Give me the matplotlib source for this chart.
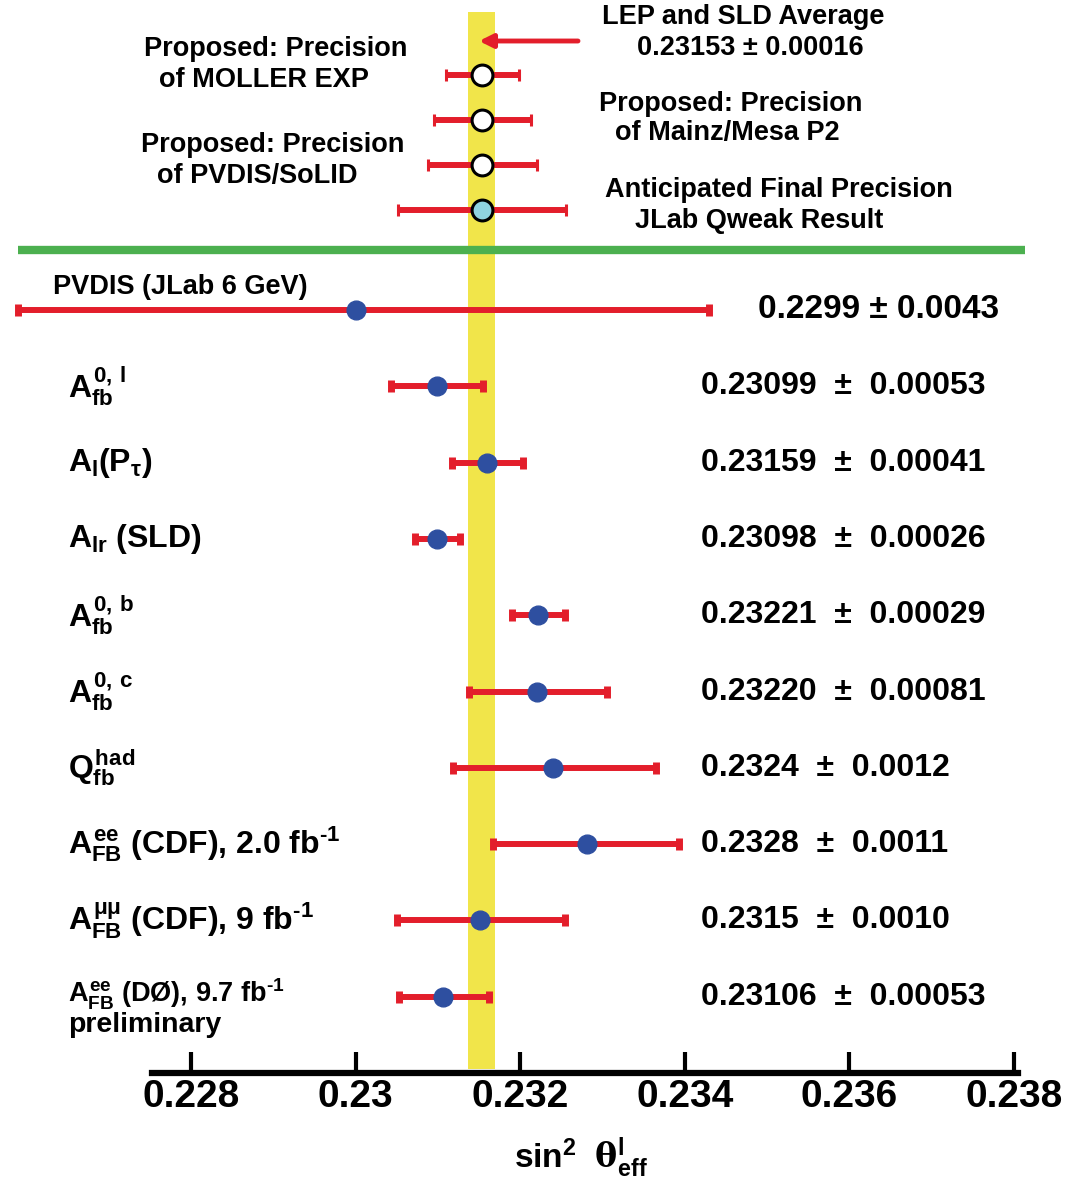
import numpy as np
import matplotlib
matplotlib.use("Agg")
import matplotlib.pyplot as plt

plt.rcParams['font.family'] = ['Liberation Sans', 'DejaVu Sans']
plt.rcParams['font.weight'] = 'bold'
plt.rcParams['mathtext.fontset'] = 'custom'
plt.rcParams['mathtext.rm'] = 'Liberation Sans:bold'
plt.rcParams['mathtext.it'] = 'Liberation Sans:bold'
plt.rcParams['mathtext.bf'] = 'Liberation Sans:bold'
plt.rcParams['mathtext.sf'] = 'DejaVu Serif'

# ---- data ----
# LEP + SLD average (yellow band)
avg_val = 0.23153
avg_err = 0.00016

# proposed / anticipated future precisions (centred on the average)
prop_val = [0.23154, 0.23154, 0.23154, 0.23154]
prop_err = [0.00044, 0.00059, 0.00066, 0.00102]
prop_face = ['white', 'white', 'white', '#8fd3e0']

# measurements
meas_labels = [r"$A^{0,\,l}_{fb}$", r"$A_l(P_\tau)$", r"$A_{lr}$ (SLD)",
               r"$A^{0,\,b}_{fb}$", r"$A^{0,\,c}_{fb}$", r"$Q^{had}_{fb}$",
               "$A^{ee}_{FB}$ (CDF), 2.0 fb$^{\u20101}$",
               "$A^{\\mu\\mu}_{FB}$ (CDF), 9 fb$^{\u20101}$"]
meas_val = [0.2300, 0.23099, 0.23160, 0.23099, 0.23222, 0.23220, 0.2324,
            0.23281, 0.23151, 0.23106]
meas_lo = [0.0041, 0.00056, 0.00043, 0.00027, 0.00032, 0.00082, 0.00122,
           0.00114, 0.00101, 0.00053]
meas_hi = [0.0043, 0.00056, 0.00043, 0.00028, 0.00032, 0.00085, 0.00125,
           0.00112, 0.00103, 0.00056]
meas_text = ["0.2299 ± 0.0043", "0.23099  ±  0.00053", "0.23159  ±  0.00041",
             "0.23098  ±  0.00026", "0.23221  ±  0.00029", "0.23220  ±  0.00081",
             "0.2324  ±  0.0012", "0.2328  ±  0.0011", "0.2315  ±  0.0010",
             "0.23106  ±  0.00053"]

xticks = [0.228, 0.23, 0.232, 0.234, 0.236, 0.238]
xticklabels = ["0.228", "0.23", "0.232", "0.234", "0.236", "0.238"]

# ---- figure ----
W, H = 1066, 1182
fig = plt.figure(figsize=(W / 100, H / 100), dpi=100)
axis_y = 1073
ax = fig.add_axes([0, (H - axis_y) / H, 1, axis_y / H])

px = 82300.0   # pixels per unit of sin2
x0 = 0.228 - 191 / px
ax.set_xlim(x0, x0 + W / px)
ax.set_ylim(axis_y, 0)   # y in pixels from the top


def xp(p):
    # pixel column -> data x
    return x0 + p / px


red = '#e31e2b'
blue = '#2e4fa0'

# yellow band
ax.fill_betweenx([12, axis_y - 4], avg_val - avg_err, avg_val + avg_err,
                 color='#f1e54a', zorder=1, lw=0)

# top section (proposed)
y_prop = 75 + 45 * np.arange(len(prop_val))
for i in range(len(prop_val)):
    ax.errorbar(prop_val[i], y_prop[i], xerr=prop_err[i], fmt='o', color=red,
                ecolor=red, elinewidth=4.3, capsize=4.5, capthick=5,
                mfc=prop_face[i], mec='black', mew=2.2, ms=15, zorder=3)

# arrow from LEP/SLD text to band
ax.annotate('', xy=(avg_val - 0.00003, 41), xytext=(xp(578), 41),
            arrowprops=dict(arrowstyle='-|>', color=red, lw=3.5,
                            mutation_scale=20, shrinkA=0, shrinkB=0), zorder=4)

# green separator
ax.plot([xp(18), xp(1025)], [250, 250], color='#4cb04f', lw=6,
        solid_capstyle='butt', zorder=2)

# measurements
y_meas = 310 + 76.3 * np.arange(len(meas_val))
ax.errorbar(meas_val, y_meas, xerr=[meas_lo, meas_hi], fmt='o', color=blue,
            ecolor=red, elinewidth=4.3, capsize=4.5, capthick=5, ms=13.5,
            mec=blue, zorder=3)

# text, top section (one call per line)
fs_top = 19.5
top_lines = [(743, 17, "LEP and SLD Average"), (750, 48, "0.23153 ± 0.00016"),
             (276, 49, "Proposed: Precision"), (264, 80, "of MOLLER EXP"),
             (731, 104, "Proposed: Precision"), (727, 133, "of Mainz/Mesa P2"),
             (273, 145, "Proposed: Precision"), (257, 176, "of PVDIS/SoLID"),
             (779, 190, "Anticipated Final Precision"), (759, 221, "JLab Qweak Result")]
for cx, cy, t in top_lines:
    ax.text(xp(cx), cy, t, ha='center', va='center', fontsize=fs_top)

# measurement labels
ax.text(xp(53), 287, "PVDIS (JLab 6 GeV)", ha='left', va='center', fontsize=19.5)
for i, lab in enumerate(meas_labels):
    ax.text(xp(68), y_meas[i + 1], lab, ha='left', va='center', fontsize=23)
ax.text(xp(68), y_meas[9] - 2, "$A^{ee}_{FB}$ (DØ), 9.7 fb$^{\u20101}$", ha='left',
        va='center', fontsize=19.5)
ax.text(xp(68), y_meas[9] + 28, "preliminary", ha='left', va='center', fontsize=20.5)

for i, t in enumerate(meas_text):
    xs = 758 if i == 0 else 701
    ax.text(xp(xs), y_meas[i], t, ha='left', va='center',
            fontsize=24 if i == 0 else 23)

# axis
for s in ['top', 'left', 'right']:
    ax.spines[s].set_visible(False)
ax.spines['bottom'].set_linewidth(4.5)
ax.spines['bottom'].set_bounds(xp(152), xp(1018))
ax.set_yticks([])
ax.set_xticks(xticks)
ax.set_xticklabels(xticklabels, fontsize=28, fontweight='bold')
ax.tick_params(axis='x', direction='in', length=15, width=3, pad=4, color='black')

# axis title
fig.text(581 / W, 1 - 1158 / H, r"sin$^2$  $\mathsf{\theta}^{l}_{eff}$",
         ha='center', va='center', fontsize=24, fontweight='bold')

fig.savefig("out.png", dpi=100)
